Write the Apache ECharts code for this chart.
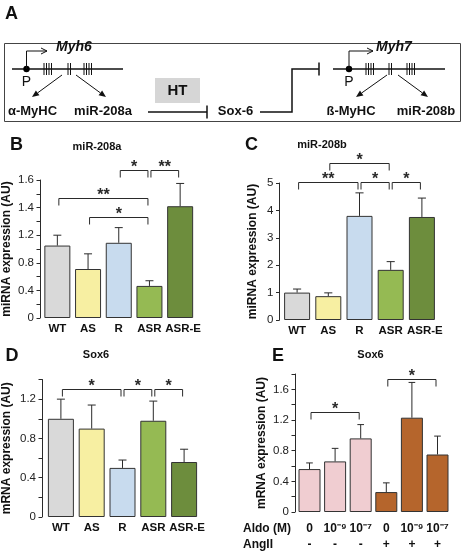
<!DOCTYPE html>
<html><head><meta charset="utf-8">
<script src="https://cdn.jsdelivr.net/npm/echarts@6/dist/echarts.min.js"></script>
<style>html,body{margin:0;padding:0;background:#fff}#c{width:465px;height:555px}</style>
</head><body><div id="c"></div>
<script>
// ---------- DATA ----------
const groupCats = ['WT', 'AS', 'R', 'ASR', 'ASR-E'];
const groupColors = ['#d9d9d9', '#f7efa2', '#c8dbee', '#95ba53', '#6d8d3d'];

// Panel B: miR-208a (axis labelled 0,0.4,0.8,1.2,1.4,1.6 — upper part compressed)
const miR208a = [1.05, 0.71, 1.09, 0.465, 1.41];
const miR208aErr = [1.20, 0.93, 1.255, 0.54, 1.575];
const bracketsB = [[0, 3, 1.47, '**'], [1, 3, 1.335, '*'], [2, 3, 1.676, '*'], [3, 4, 1.676, '**']];

// Panel C: miR-208b
const miR208b = [1.0, 0.87, 3.8, 1.83, 3.76];
const miR208bErr = [1.13, 0.99, 4.64, 2.13, 4.45];
const bracketsC = [[0, 2, 5.04, '**'], [2, 3, 5.04, '*'], [3, 4, 5.04, '*'], [1, 3, 5.73, '*']];

// Panel D: Sox6
const sox6D = [1.0, 0.9, 0.5, 0.98, 0.56];
const sox6DErr = [1.2, 1.14, 0.58, 1.18, 0.69];
const bracketsD = [[0, 2, 1.30, '*'], [2, 3, 1.30, '*'], [3, 4, 1.30, '*']];

// Panel E: Sox6, Aldo / AngII
const aldoLabels = ['0', '10\u207B\u2079', '10\u207B\u2077', '0', '10\u207B\u2079', '10\u207B\u2077'];
const angLabels = ['-', '-', '-', '+', '+', '+'];
const eColors = ['#f0cdd1', '#f0cdd1', '#f0cdd1', '#b5652c', '#b5652c', '#b5652c'];
const sox6E = [0.56, 0.66, 0.96, 0.26, 1.23, 0.75];
const sox6EErr = [0.64, 0.83, 1.14, 0.38, 1.69, 0.99];
const bracketsE = [[0, 2, 1.31, '*'], [3, 5, 1.73, '*']];

// ---------- HELPERS ----------
// B axis: linear up to 1.2, then each 0.2 spans what 0.4 spans below
const tfB = v => v <= 1.2 ? v : 1.2 + (v - 1.2) * 2;
const invB = u => u <= 1.2 + 1e-9 ? u : 1.2 + (u - 1.2) / 2;
const fmtNum = v => Math.abs(v) < 1e-9 ? '0' : (Math.round(v * 10) / 10).toFixed(1);
const every04 = (fn) => v => (Math.abs(v / 0.4 - Math.round(v / 0.4)) < 1e-6 ? fn(v) : '');

const INK = '#2a2a2a';
const FONT = '"Liberation Sans", Arial, sans-serif';

function errRender(params, api) {
  const i = api.value(0);
  const a = api.coord([i, api.value(1)]);
  const b = api.coord([i, api.value(2)]);
  const hw = api.size([1, 0])[0] * 0.13;
  return {
    type: 'group', children: [
      { type: 'line', shape: { x1: a[0], y1: a[1], x2: b[0], y2: b[1] }, style: { stroke: INK, lineWidth: 1 } },
      { type: 'line', shape: { x1: b[0] - hw, y1: b[1], x2: b[0] + hw, y2: b[1] }, style: { stroke: INK, lineWidth: 1 } }
    ]
  };
}
function makeBracketRender(labels) {
  return function (params, api) {
    const p1 = api.coord([api.value(0), api.value(2)]);
    const p2 = api.coord([api.value(1), api.value(2)]);
    const x1 = p1[0] + 1.5, x2 = p2[0] - 1.5, y = Math.round(p1[1]) + 0.5, d = 7;
    return {
      type: 'group', children: [
        { type: 'polyline', shape: { points: [[x1, y + d], [x1, y], [x2, y], [x2, y + d]] }, style: { stroke: INK, lineWidth: 1, fill: null } },
        { type: 'text', x: (x1 + x2) / 2, y: y - 3, style: { text: labels[params.dataIndex], font: 'bold 16px ' + FONT, fill: INK, align: 'center', verticalAlign: 'middle', textAlign: 'center', textVerticalAlign: 'middle' } }
      ]
    };
  };
}

function yAxisCommon(extra) {
  return Object.assign({
    type: 'value', min: 0, splitLine: { show: false },
    axisLine: { show: true, lineStyle: { color: INK, width: 1 } },
    axisTick: { show: true, length: 3.5, lineStyle: { color: INK } },
    axisLabel: { color: '#222', fontSize: 11.5, fontFamily: FONT, margin: 6 },
    nameLocation: 'middle', nameRotate: 90,
    nameTextStyle: { fontWeight: 'bold', fontSize: 12, fontFamily: FONT, color: '#111' }
  }, extra);
}
const catLabelStyle = { fontWeight: 'bold', fontSize: 11.5, fontFamily: FONT, color: '#111' };
function xAxisCommon(idx, data, extra) {
  return Object.assign({
    type: 'category', gridIndex: idx, data: data,
    axisLine: { show: false }, axisTick: { show: false },
    axisLabel: Object.assign({
      margin: 5, interval: 0,
      formatter: (v, i) => i === data.length - 1 ? '{e|' + v + '}' : v,
      rich: { e: Object.assign({ padding: [0, 0, 0, 6] }, catLabelStyle) }
    }, catLabelStyle)
  }, extra);
}
function barSeries(idx, vals, colors, width) {
  return {
    type: 'bar', xAxisIndex: idx, yAxisIndex: idx, barWidth: width, silent: true,
    data: vals.map((v, i) => ({ value: v, itemStyle: { color: colors[i] } })),
    itemStyle: { borderColor: '#333', borderWidth: 1 }
  };
}
function errSeries(idx, vals, errs) {
  return { type: 'custom', xAxisIndex: idx, yAxisIndex: idx, silent: true, renderItem: errRender, data: vals.map((v, i) => [i, v, errs[i]]), z: 3 };
}
function brSeries(idx, list) {
  return {
    type: 'custom', xAxisIndex: idx, yAxisIndex: idx, silent: true, clip: false,
    renderItem: makeBracketRender(list.map(b => b[3])),
    data: list.map(b => [b[0], b[1], b[2]]), z: 4
  };
}

// ---------- PANEL A (schematic) ----------
const G = [];
const line = (x1, y1, x2, y2, w) => ({ type: 'line', shape: { x1, y1, x2, y2 }, style: { stroke: '#111', lineWidth: w || 1.5 } });
const txt = (t, x, y, font, align) => ({ type: 'text', x, y, style: { text: t, font, fill: '#111', align: align || 'center', verticalAlign: 'middle', textAlign: align || 'center', textVerticalAlign: 'middle' } });
function arrow(x1, y1, x2, y2) {
  const ang = Math.atan2(y2 - y1, x2 - x1), L = 7, W = 3;
  const bx = x2 - L * Math.cos(ang), by = y2 - L * Math.sin(ang);
  const nx = -Math.sin(ang) * W, ny = Math.cos(ang) * W;
  G.push(line(x1, y1, bx, by, 1));
  G.push({ type: 'polygon', shape: { points: [[x2, y2], [bx + nx, by + ny], [bx - nx, by - ny]] }, style: { fill: '#111' } });
}
function gene(x1, x2, dot, arrowEnd, ticks, name, nameX) {
  G.push(line(x1, 69, x2, 69, 1.5));
  G.push({ type: 'circle', shape: { cx: dot, cy: 69, r: 3.2 }, style: { fill: '#000' } });
  G.push({ type: 'polyline', shape: { points: [[dot, 69], [dot, 51], [arrowEnd, 51]] }, style: { stroke: '#111', lineWidth: 1, fill: null } });
  G.push({ type: 'polyline', shape: { points: [[arrowEnd - 6, 48], [arrowEnd, 51], [arrowEnd - 6, 54]] }, style: { stroke: '#111', lineWidth: 1, fill: null } });
  ticks.forEach(t => G.push(line(t, 63, t, 75, 1)));
  G.push(txt(name, nameX, 47, 'italic bold 14px ' + FONT));
  G.push(txt('P', dot, 82, '14px ' + FONT));
}
G.push({ type: 'rect', shape: { x: 4.5, y: 43.5, width: 456, height: 78 }, style: { stroke: '#444', lineWidth: 1, fill: null } });
G.push(txt('A', 5, 14, 'bold 18px ' + FONT, 'left'));
gene(12, 123, 26.5, 47, [44, 46.5, 49, 51.5, 68, 70.5, 84, 86.5, 89, 91.5], 'Myh6', 74);
arrow(62, 75, 32, 97); arrow(76, 75, 106, 97);
G.push(txt('\u03B1-MyHC', 32.5, 111, 'bold 13px ' + FONT));
G.push(txt('miR-208a', 103, 111, 'bold 13px ' + FONT));
G.push({ type: 'rect', shape: { x: 155, y: 78, width: 45, height: 25 }, style: { fill: '#d6d6d6' } });
G.push(txt('HT', 177.5, 91, 'bold 15px ' + FONT));
G.push(line(148, 112, 207, 112)); G.push(line(207, 105.5, 207, 118.5));
G.push(txt('Sox-6', 235.5, 111, 'bold 13px ' + FONT));
G.push({ type: 'polyline', shape: { points: [[260, 112], [292, 112], [292, 69], [319, 69]] }, style: { stroke: '#111', lineWidth: 1.5, fill: null } });
G.push(line(319, 62.5, 319, 75.5));
gene(333, 445, 349, 373, [366, 368.5, 371, 373.5, 389, 391.5, 407, 409.5, 412, 414.5], 'Myh7', 394);
arrow(387, 75, 356, 97); arrow(398, 75, 428, 97);
G.push(txt('\u00DF-MyHC', 351, 111, 'bold 13px ' + FONT));
G.push(txt('miR-208b', 426, 111, 'bold 13px ' + FONT));

// panel letters & titles
G.push(txt('B', 16.5, 145, 'bold 18px ' + FONT));
G.push(txt('miR-208a', 97, 147, 'bold 11px ' + FONT));
G.push(txt('C', 251.5, 145.5, 'bold 18px ' + FONT));
G.push(txt('miR-208b', 322, 145, 'bold 11px ' + FONT));
G.push(txt('D', 12, 356, 'bold 18px ' + FONT));
G.push(txt('Sox6', 96, 355, 'bold 11px ' + FONT));
G.push(txt('E', 278, 356, 'bold 18px ' + FONT));
G.push(txt('Sox6', 370.5, 355, 'bold 11px ' + FONT));
G.push(txt('Aldo (M)', 243, 529, 'bold 12px ' + FONT, 'left'));
G.push(txt('AngII', 243, 545, 'bold 12px ' + FONT, 'left'));

// ---------- OPTION ----------
const option = {
  animation: false,
  backgroundColor: '#fff',
  grid: [
    { left: 41.5, top: 180, width: 154, height: 138 },
    { left: 281.5, top: 183, width: 156, height: 137 },
    { left: 45.5, top: 379.5, width: 154, height: 137.5 },
    { left: 296.7, top: 374, width: 153.6, height: 138 }
  ],
  xAxis: [
    xAxisCommon(0, groupCats),
    xAxisCommon(1, groupCats),
    xAxisCommon(2, groupCats),
    {
      type: 'category', gridIndex: 3, data: aldoLabels.map((a, i) => String(i)),
      axisLine: { show: false }, axisTick: { show: false },
      axisLabel: {
        fontWeight: 'bold', fontSize: 12, fontFamily: FONT, color: '#111', margin: 9, interval: 0, lineHeight: 16,
        formatter: (v, i) => aldoLabels[i] + '\n' + angLabels[i]
      }
    }
  ],
  yAxis: [
    yAxisCommon({ gridIndex: 0, max: 2.0, interval: 0.2, offset: 2, name: 'miRNA expression (AU)', nameGap: 27,
      axisLabel: { color: '#222', fontSize: 11.5, fontFamily: FONT, margin: 6, formatter: every04(u => fmtNum(invB(u))) } }),
    yAxisCommon({ gridIndex: 1, max: 5, interval: 1, offset: 2, name: 'miRNA expression (AU)', nameGap: 21 }),
    yAxisCommon({ gridIndex: 2, max: 1.4, interval: 0.2, offset: 3.5, name: 'mRNA expression (AU)', nameGap: 29,
      axisLabel: { color: '#222', fontSize: 11.5, fontFamily: FONT, margin: 6, formatter: every04(fmtNum) } }),
    yAxisCommon({ gridIndex: 3, max: 1.8, interval: 0.2, offset: 1.7, name: 'mRNA expression (AU)', nameGap: 27,
      axisLabel: { color: '#222', fontSize: 11.5, fontFamily: FONT, margin: 6, formatter: every04(fmtNum) } })
  ],
  series: [
    barSeries(0, miR208a.map(tfB), groupColors, 26),
    errSeries(0, miR208a.map(tfB), miR208aErr.map(tfB)),
    brSeries(0, bracketsB.map(b => [b[0], b[1], tfB(b[2]), b[3]])),
    barSeries(1, miR208b, groupColors, 26),
    errSeries(1, miR208b, miR208bErr),
    brSeries(1, bracketsC),
    barSeries(2, sox6D, groupColors, 26),
    errSeries(2, sox6D, sox6DErr),
    brSeries(2, bracketsD),
    barSeries(3, sox6E, eColors, 22),
    errSeries(3, sox6E, sox6EErr),
    brSeries(3, bracketsE)
  ],
  graphic: { elements: G }
};
const chart = echarts.init(document.getElementById('c'), null, { renderer: 'canvas' });
chart.setOption(option);
</script></body></html>
